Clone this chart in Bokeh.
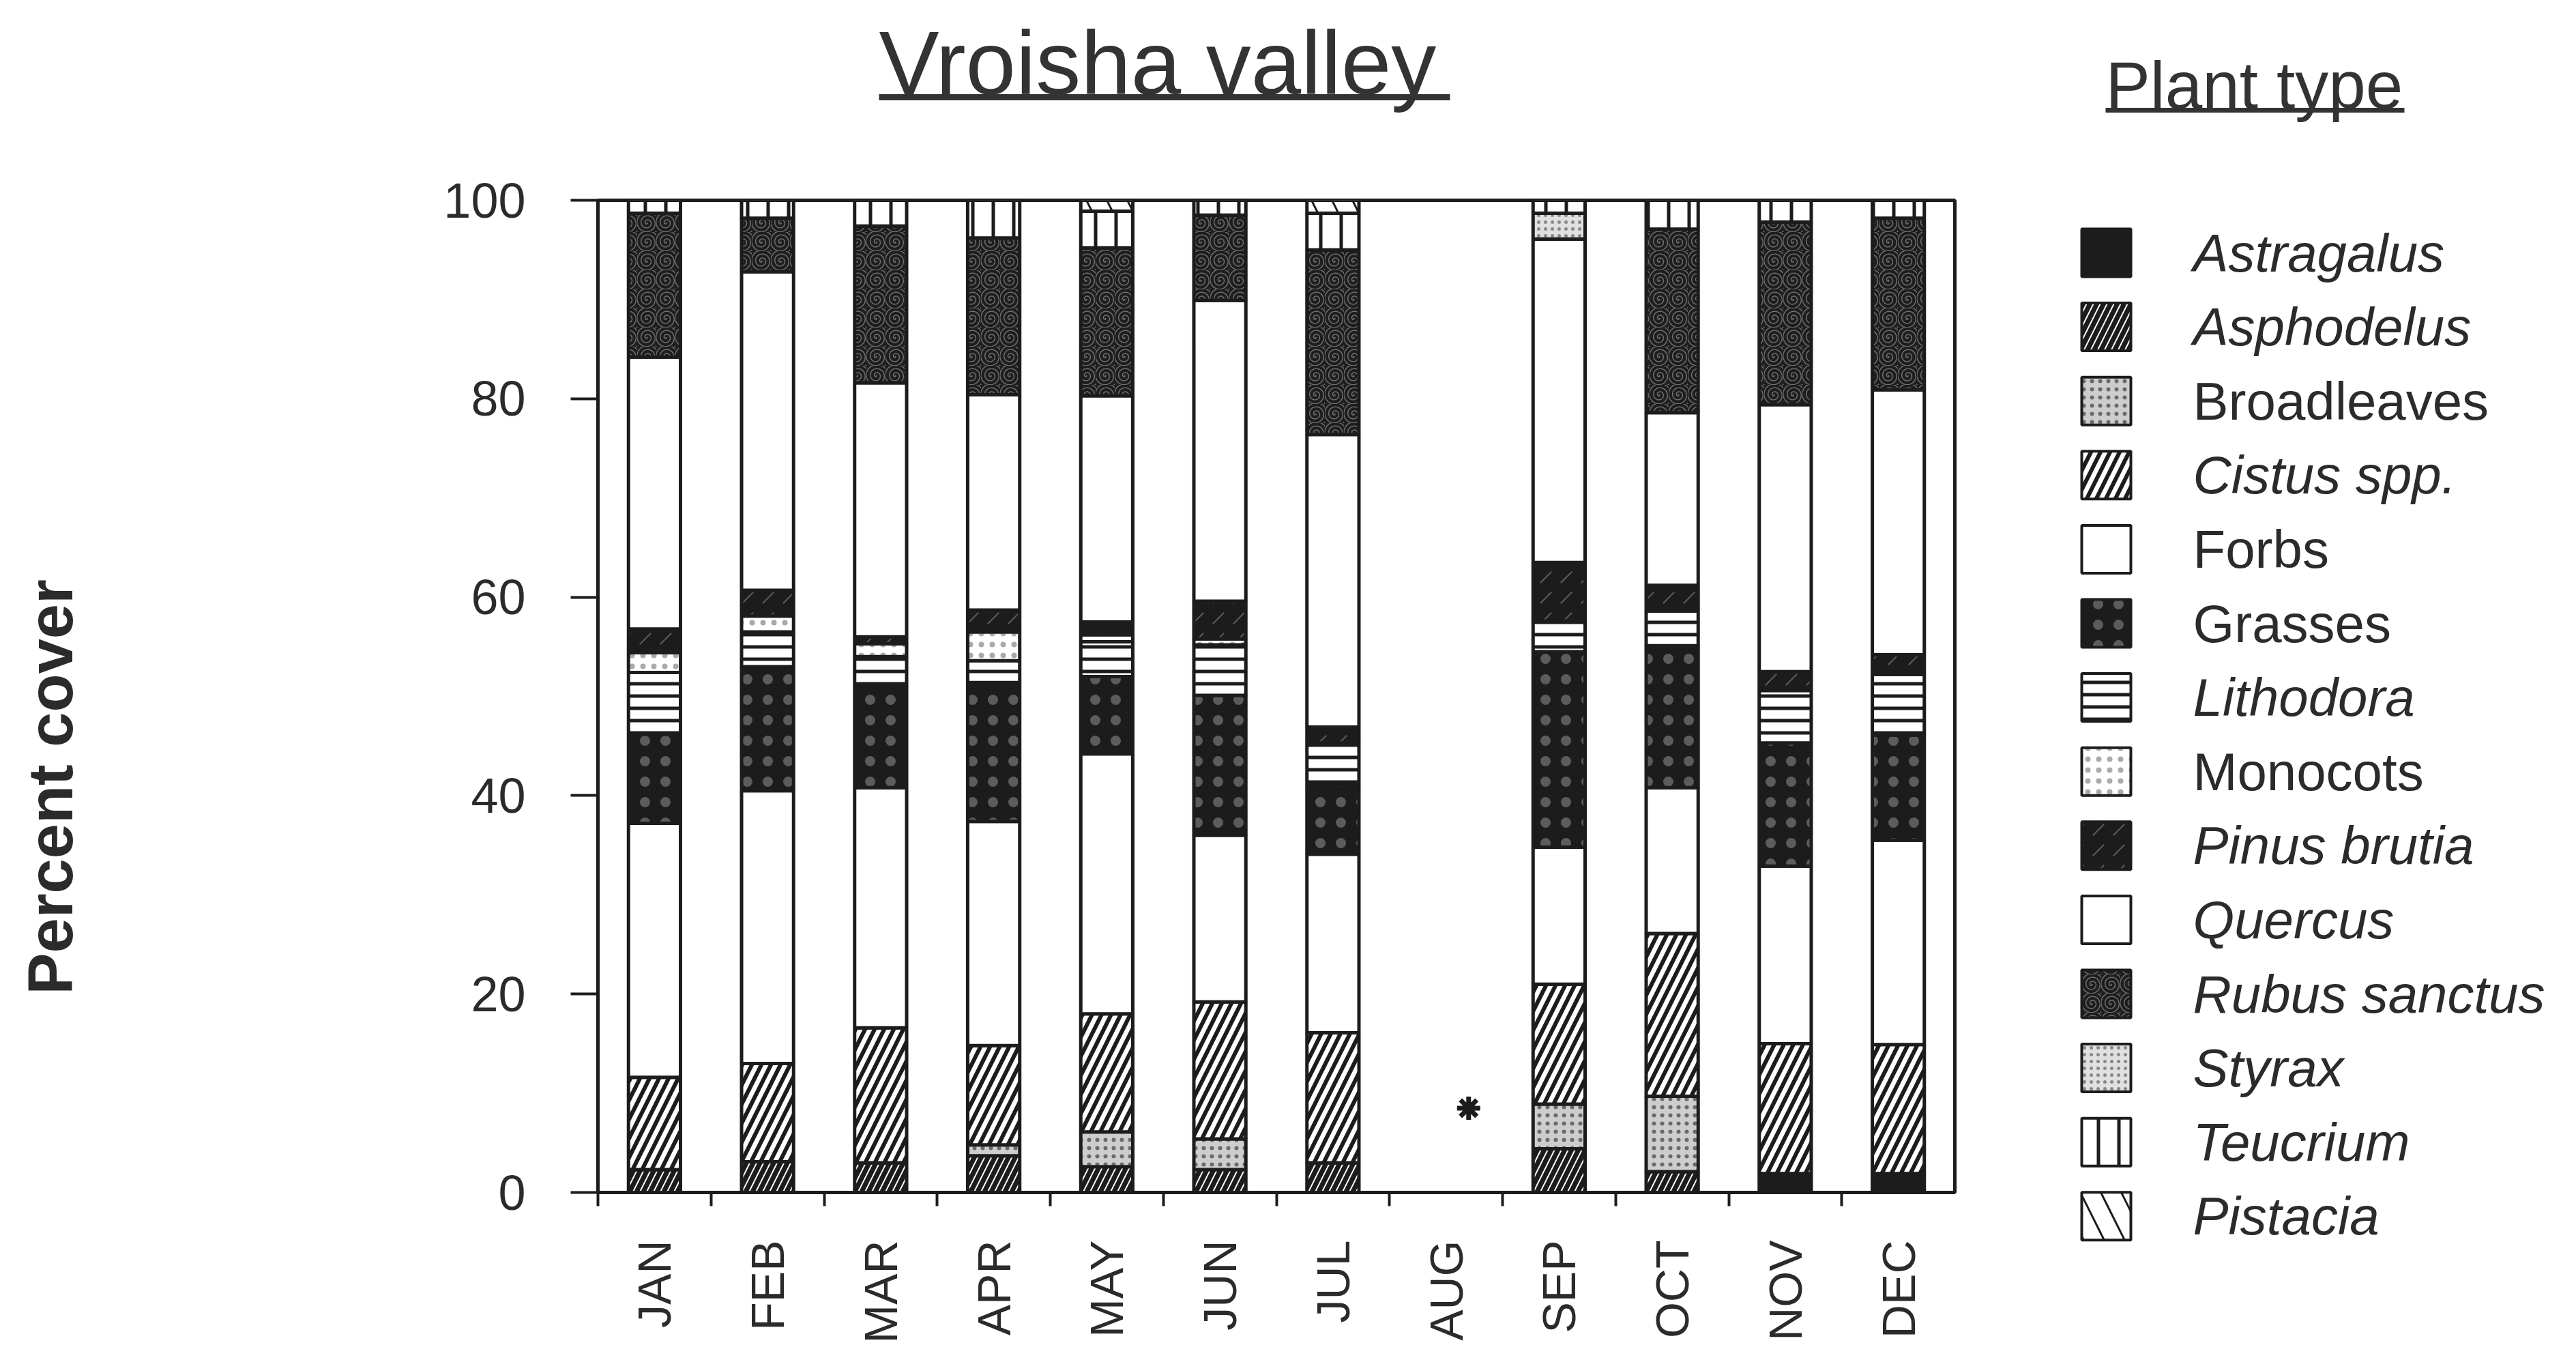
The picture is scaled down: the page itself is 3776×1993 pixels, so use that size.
import math
import numpy as np
from bokeh.plotting import figure
from bokeh.models import ColumnDataSource, Range1d, FixedTicker, LinearAxis
from bokeh.layouts import row, column
from bokeh.embed import file_html
from bokeh.resources import INLINE
from bokeh.core.properties import value

# ---------------- data ----------------
months = ["JAN", "FEB", "MAR", "APR", "MAY", "JUN", "JUL", "AUG", "SEP", "OCT", "NOV", "DEC"]
NA = float("nan")  # August: no data (marked with an asterisk)

plant_types = ["Astragalus", "Asphodelus", "Broadleaves", "Cistus spp.", "Forbs", "Grasses",
               "Lithodora", "Monocots", "Pinus brutia", "Quercus", "Rubus sanctus", "Styrax",
               "Teucrium", "Pistacia"]

astragalus = [0, 0, 0, 0, 0, 0, 0, NA, 0, 0, 1.9, 1.9]
asphodelus = [2.3, 3.1, 3.0, 3.7, 2.6, 2.3, 3.0, NA, 4.4, 2.1, 0, 0]
broadleaves = [0, 0, 0, 1.1, 3.5, 3.1, 0, NA, 4.5, 7.6, 0, 0]
cistus = [9.3, 9.9, 13.6, 10.0, 11.9, 13.8, 13.1, NA, 12.1, 16.4, 13.1, 13.0]
forbs = [25.6, 27.5, 24.2, 22.6, 26.2, 16.8, 18.0, NA, 13.8, 14.7, 17.9, 20.6]
grasses = [9.0, 12.5, 10.2, 14.0, 7.8, 14.1, 7.0, NA, 19.7, 14.3, 12.4, 10.6]
lithodora = [6.2, 3.5, 3.0, 2.2, 3.5, 5.1, 4.2, NA, 3.1, 3.5, 5.3, 6.1]
monocots = [2.0, 1.6, 1.3, 2.9, 0.7, 0.6, 0, NA, 0, 0, 0, 0]
pinus_brutia = [2.4, 2.6, 0.7, 2.2, 1.3, 3.8, 1.6, NA, 5.9, 2.6, 1.9, 2.0]
quercus = [27.4, 32.1, 25.6, 21.7, 22.8, 30.3, 29.5, NA, 32.6, 17.4, 26.9, 26.7]
rubus_sanctus = [14.5, 5.4, 15.8, 15.8, 14.9, 8.6, 18.6, NA, 0, 18.5, 18.4, 17.3]
styrax = [0, 0, 0, 0, 0, 0, 0, NA, 2.6, 0, 0, 0]
teucrium = [1.3, 1.8, 2.6, 3.8, 3.7, 1.5, 3.7, NA, 1.3, 2.9, 2.2, 1.8]
pistacia = [0, 0, 0, 0, 1.1, 0, 1.3, NA, 0, 0, 0, 0]

no_data_month = ["AUG"]
no_data_y = [8.5]

y_ticks = [0, 20, 40, 60, 80, 100]

series = [astragalus, asphodelus, broadleaves, cistus, forbs, grasses, lithodora, monocots,
          pinus_brutia, quercus, rubus_sanctus, styrax, teucrium, pistacia]
keys = ["s%d" % i for i in range(len(plant_types))]

# ---------------- styles ----------------
INK = "#1c1c1c"
TXT = "#2b2b2b"
FONT = "Liberation Sans"
fills = ["#1c1c1c", "white", "#cdcdcd", "white", "white", "#1c1c1c", "white", "white",
         "#1c1c1c", "white", "#1e1e1e", "#e0e0e0", "white", "white"]
hatches = [" ", "/", ".", "/", " ", ".", "-", ".", ",", " ", "@", ".", "|", "\\"]
hatch_colors = [INK, INK, "#6a6a6a", INK, INK, "#5c5c5c", INK, "#aaaaaa", "#5a5a5a", INK,
                "#6e6e6e", "#888888", INK, INK]
hatch_scales = [12, 20, 12, 28, 12, 30, 18, 16, 30, 12, 28, 10, 30, 60]
hatch_weights = [1, 7, 2, 6, 1, 1.5, 5, 2, 2, 1, 1.5, 2, 5, 3]
font_styles = ["italic", "italic", "normal", "italic", "normal", "normal", "italic", "normal",
               "italic", "italic", "italic", "italic", "italic", "italic"]

# ---------------- layout sizes ----------------
TOTAL_H = 1977
YLAB_W = 150
MAIN_W = 2790
LEG_W = 820
TITLE_H = 200
MAIN_H = TOTAL_H - TITLE_H
BL, BR = 726, 75          # left / right borders of the main chart frame

# ---------------- y-label panel ----------------
ylab = figure(width=YLAB_W, height=TOTAL_H, x_range=Range1d(0, YLAB_W), y_range=Range1d(TOTAL_H, 0),
              x_axis_location=None, y_axis_location=None, toolbar_location=None,
              output_backend="svg", min_border=0, outline_line_color=None, title=None)
ylab.grid.visible = False
ylab.text(x=[73], y=[1153], text=["Percent cover"], angle=math.pi / 2,
          text_font=value(FONT), text_font_size=value("92px"), text_font_style="bold",
          text_align="center", text_baseline="middle", text_color=TXT)

# ---------------- title panel (frame aligned with the main chart frame) ----------------
tf = figure(width=MAIN_W, height=TITLE_H, x_range=Range1d(BL, MAIN_W - BR), y_range=Range1d(TITLE_H, 0),
            x_axis_location=None, y_axis_location=None, toolbar_location=None,
            output_backend="svg", min_border=0, min_border_left=BL, min_border_right=BR,
            outline_line_color=None, title=None)
tf.grid.visible = False
tf.text(x=[1138], y=[92], text=["Vroisha valley"], text_font=value(FONT),
        text_font_size=value("132px"), text_align="left", text_baseline="middle",
        text_color="#333333")
tf.segment(x0=[1138], y0=[142], x1=[1975], y1=[142], line_width=9, line_color="#333333")

# ---------------- main chart ----------------
xpos = np.arange(len(months)) + 0.5
data = dict(x=xpos)
for k, s in zip(keys, series):
    data[k] = np.array(s, dtype=float)
src = ColumnDataSource(data)

p = figure(width=MAIN_W, height=MAIN_H, x_range=Range1d(0, len(months)), y_range=Range1d(0, 100),
           x_axis_location=None, y_axis_location=None, toolbar_location=None,
           output_backend="svg", title=None,
           min_border_left=BL, min_border_right=BR, min_border_top=93, min_border_bottom=230)
p.grid.visible = False
p.outline_line_color = INK
p.outline_line_width = 5
p.background_fill_color = "white"
p.border_fill_color = "white"

p.vbar_stack(keys, x="x", width=0.46, source=src,
             fill_color=fills, hatch_pattern=hatches, hatch_color=hatch_colors,
             hatch_scale=hatch_scales, hatch_weight=hatch_weights,
             line_color=INK, line_width=5)

nd_x = [months.index(m) + 0.7 for m in no_data_month]
p.scatter(x=nd_x, y=no_data_y, marker="asterisk", size=34, line_width=7, line_color=INK)

yaxis = LinearAxis(ticker=FixedTicker(ticks=y_ticks))
yaxis.axis_line_width = 5
yaxis.axis_line_color = INK
yaxis.major_tick_out = 40
yaxis.major_tick_in = 0
yaxis.major_tick_line_width = 4
yaxis.major_tick_line_color = INK
yaxis.minor_tick_out = 0
yaxis.minor_tick_in = 0
yaxis.major_label_standoff = 66
yaxis.major_label_text_font = FONT
yaxis.major_label_text_font_size = "72px"
yaxis.major_label_text_color = TXT
p.add_layout(yaxis, "left")

xaxis = LinearAxis(ticker=FixedTicker(ticks=list(xpos), minor_ticks=list(range(len(months)))))
xaxis.major_label_overrides = {float(x): m for x, m in zip(xpos, months)}
xaxis.axis_line_width = 5
xaxis.axis_line_color = INK
xaxis.major_tick_out = 0
xaxis.major_tick_in = 0
xaxis.minor_tick_out = 20
xaxis.minor_tick_in = 0
xaxis.minor_tick_line_width = 4
xaxis.minor_tick_line_color = INK
xaxis.major_label_orientation = math.pi / 2
xaxis.major_label_standoff = 50
xaxis.major_label_text_font = FONT
xaxis.major_label_text_font_size = "68px"
xaxis.major_label_text_color = TXT
p.add_layout(xaxis, "below")

# ---------------- legend panel ----------------
lf = figure(width=LEG_W, height=TOTAL_H, x_range=Range1d(0, LEG_W), y_range=Range1d(TOTAL_H, 0),
            x_axis_location=None, y_axis_location=None, toolbar_location=None,
            output_backend="svg", min_border=0, outline_line_color=None, title=None)
lf.grid.visible = False
lf.text(x=[146], y=[124], text=["Plant type"], text_font=value(FONT),
        text_font_size=value("98px"), text_align="left", text_baseline="middle",
        text_color="#333333")
lf.segment(x0=[146], y0=[161], x1=[584], y1=[161], line_width=7, line_color="#333333")

n = len(plant_types)
row_y = 370 + np.arange(n) * 108.6
lsrc = ColumnDataSource(dict(x=[147] * n, tx=[274] * n, y=row_y, fill=fills, hatch=hatches,
                             hc=hatch_colors, hs=hatch_scales, hw=hatch_weights,
                             label=plant_types, style=font_styles))
lf.rect(x="x", y="y", width=72, height=70, fill_color="fill", hatch_pattern="hatch",
        hatch_color="hc", hatch_scale="hs", hatch_weight="hw", line_color=INK, line_width=4,
        source=lsrc)
lf.text(x="tx", y="y", text="label", text_font=value(FONT), text_font_size=value("78px"),
        text_font_style="style", text_align="left", text_baseline="middle",
        text_color=TXT, source=lsrc)

layout = row(ylab, column(tf, p), lf)
open("out.html", "w").write(file_html(layout, INLINE))
